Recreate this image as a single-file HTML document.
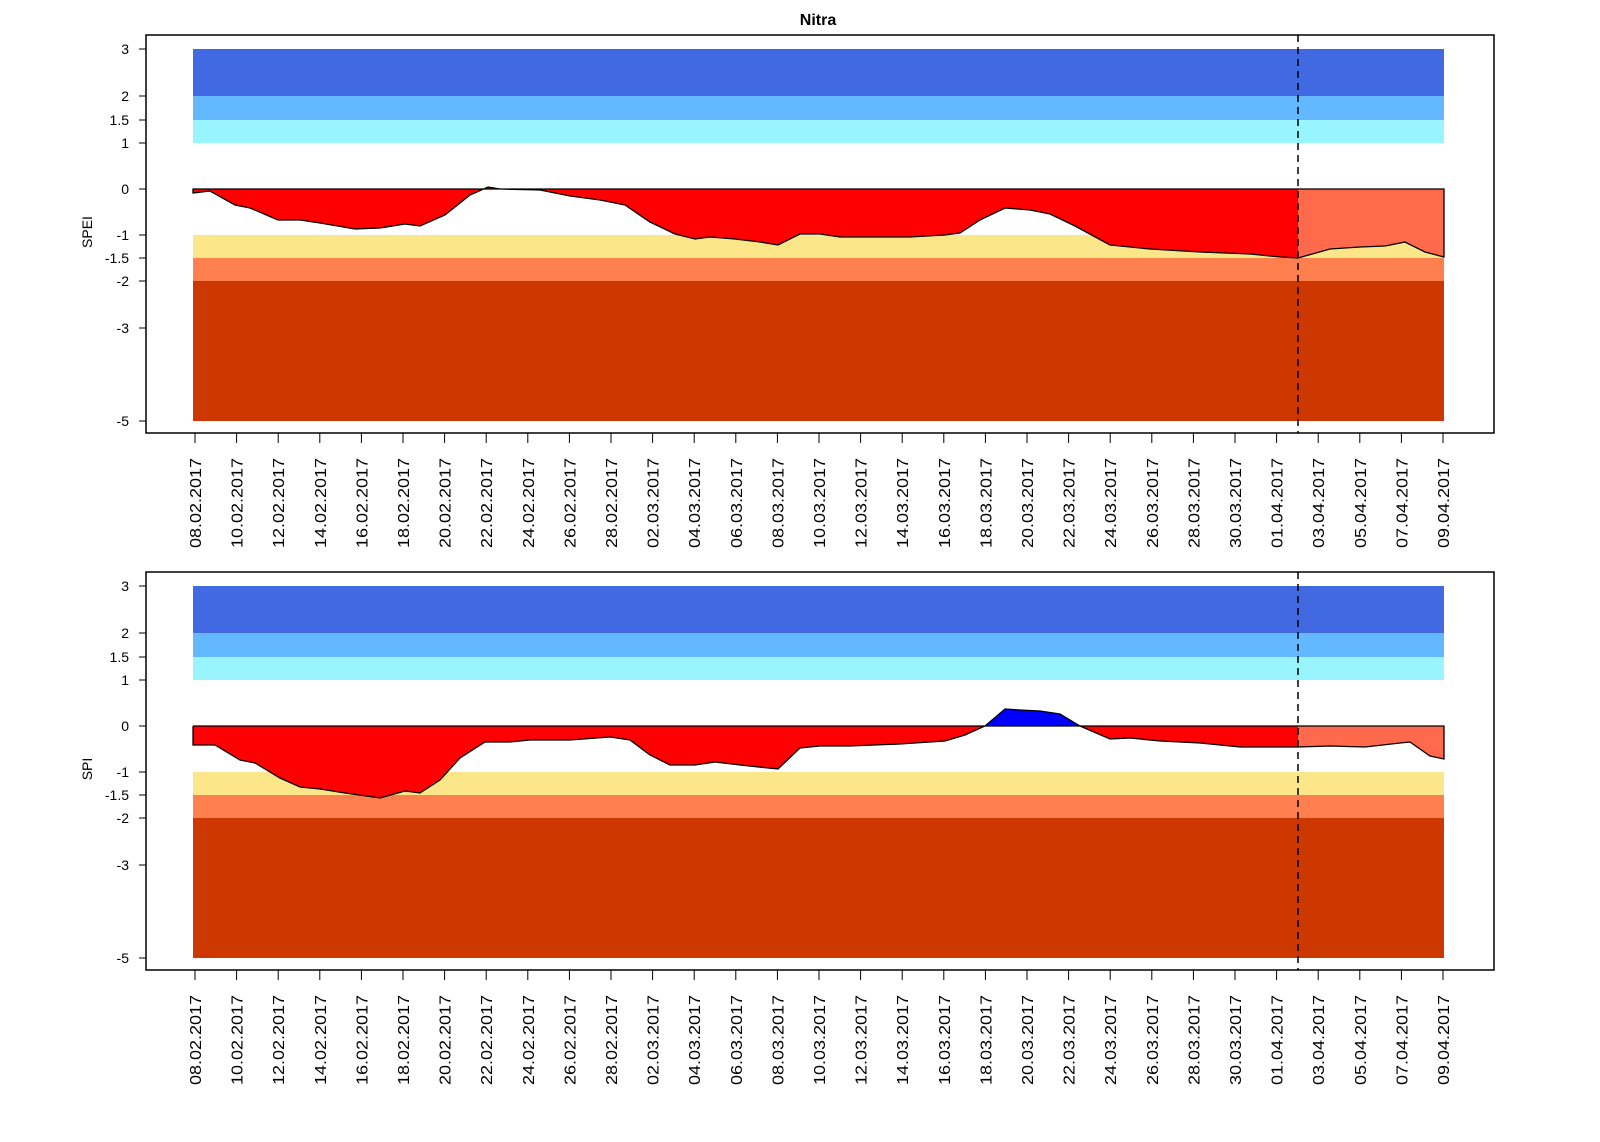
<!DOCTYPE html>
<html><head><meta charset="utf-8"><style>
body{margin:0;background:#fff}
svg{display:block;font-family:"Liberation Sans",Arial,sans-serif}
</style></head><body>
<svg width="1600" height="1142" viewBox="0 0 1600 1142">
<defs>
<clipPath id="cl"><rect x="0" y="0" width="1298" height="1142"/></clipPath>
<clipPath id="cr"><rect x="1298" y="0" width="300" height="1142"/></clipPath>
<path id="s1" d="M193,189 L193,193 L210,191 L235,205 L250,208 L278,220 L300,220 L320,223 L355,229 L380,228 L405,224 L420,226 L445,215 L470,195 L488,187 L500,189 L540,190 L570,196 L600,200 L625,205 L650,222 L675,234 L695,239 L710,237 L735,239 L760,242 L778,245 L800,234 L820,234 L840,237 L880,237 L910,237 L945,235 L960,233 L980,220 L1005,208 L1030,210 L1050,214 L1075,226 L1110,245 L1150,249 L1200,252 L1250,254 L1280,257 L1298,258 L1330,249 L1360,247 L1385,246 L1405,242 L1425,252 L1444,257 L1444,189 Z"/>
<path id="s2" d="M193,189 L193,208 L215,208 L240,223 L255,226 L280,241 L300,250 L320,252 L345,256 L380,261 L405,254 L420,256 L440,243 L460,221 L485,205 L510,205 L530,203 L570,203 L610,200 L630,203 L650,218 L670,228 L695,228 L715,225 L740,228 L778,232 L800,211 L820,209 L850,209 L900,207 L945,204 L965,198 L985,189 L1080,189 L1110,202 L1130,201 L1160,204 L1200,206 L1240,210 L1298,210 L1330,209 L1365,210 L1400,206 L1410,205 L1430,219 L1444,222 L1444,189 Z"/>
<g id="bands">
<rect x="193" y="49" width="1251" height="47" fill="#4169E1"/>
<rect x="193" y="96" width="1251" height="24" fill="#63B8FF"/>
<rect x="193" y="120" width="1251" height="23" fill="#98F5FF"/>
<rect x="193" y="235" width="1251" height="23" fill="#FCE68A"/>
<rect x="193" y="258" width="1251" height="23" fill="#FF7F4F"/>
<rect x="193" y="281" width="1251" height="140" fill="#CD3700"/>
</g>
<g id="axes" font-size="14" fill="#000">
<rect x="146" y="35" width="1348" height="398" fill="none" stroke="#000" stroke-width="1.5"/>
<g stroke="#000" stroke-width="1">
<line x1="146" y1="49" x2="139" y2="49"/><line x1="146" y1="96" x2="139" y2="96"/><line x1="146" y1="120" x2="139" y2="120"/><line x1="146" y1="143" x2="139" y2="143"/><line x1="146" y1="189" x2="139" y2="189"/><line x1="146" y1="235" x2="139" y2="235"/><line x1="146" y1="258" x2="139" y2="258"/><line x1="146" y1="281" x2="139" y2="281"/><line x1="146" y1="328" x2="139" y2="328"/><line x1="146" y1="421" x2="139" y2="421"/>
<line x1="195" y1="433" x2="1443" y2="433"/>
</g>
<g text-anchor="end">
<text x="129" y="54">3</text><text x="129" y="101">2</text><text x="129" y="125">1.5</text><text x="129" y="148">1</text><text x="129" y="194">0</text><text x="129" y="240">-1</text><text x="129" y="263">-1.5</text><text x="129" y="286">-2</text><text x="129" y="333">-3</text><text x="129" y="426">-5</text>
</g>
<g stroke="#000"><line x1="195" y1="433" x2="195" y2="443"/><line x1="236.6" y1="433" x2="236.6" y2="443"/><line x1="278.2" y1="433" x2="278.2" y2="443"/><line x1="319.8" y1="433" x2="319.8" y2="443"/><line x1="361.4" y1="433" x2="361.4" y2="443"/><line x1="403" y1="433" x2="403" y2="443"/><line x1="444.6" y1="433" x2="444.6" y2="443"/><line x1="486.2" y1="433" x2="486.2" y2="443"/><line x1="527.8" y1="433" x2="527.8" y2="443"/><line x1="569.4" y1="433" x2="569.4" y2="443"/><line x1="611" y1="433" x2="611" y2="443"/><line x1="652.6" y1="433" x2="652.6" y2="443"/><line x1="694.2" y1="433" x2="694.2" y2="443"/><line x1="735.8" y1="433" x2="735.8" y2="443"/><line x1="777.4" y1="433" x2="777.4" y2="443"/><line x1="819" y1="433" x2="819" y2="443"/><line x1="860.6" y1="433" x2="860.6" y2="443"/><line x1="902.2" y1="433" x2="902.2" y2="443"/><line x1="943.8" y1="433" x2="943.8" y2="443"/><line x1="985.4" y1="433" x2="985.4" y2="443"/><line x1="1027" y1="433" x2="1027" y2="443"/><line x1="1068.6" y1="433" x2="1068.6" y2="443"/><line x1="1110.2" y1="433" x2="1110.2" y2="443"/><line x1="1151.8" y1="433" x2="1151.8" y2="443"/><line x1="1193.4" y1="433" x2="1193.4" y2="443"/><line x1="1235" y1="433" x2="1235" y2="443"/><line x1="1276.6" y1="433" x2="1276.6" y2="443"/><line x1="1318.2" y1="433" x2="1318.2" y2="443"/><line x1="1359.8" y1="433" x2="1359.8" y2="443"/><line x1="1401.4" y1="433" x2="1401.4" y2="443"/><line x1="1443" y1="433" x2="1443" y2="443"/></g>
<g text-anchor="end" font-size="16">
<text transform="translate(201,458) rotate(-90)" textLength="90" lengthAdjust="spacingAndGlyphs">08.02.2017</text>
<text transform="translate(242.6,458) rotate(-90)" textLength="90" lengthAdjust="spacingAndGlyphs">10.02.2017</text>
<text transform="translate(284.2,458) rotate(-90)" textLength="90" lengthAdjust="spacingAndGlyphs">12.02.2017</text>
<text transform="translate(325.8,458) rotate(-90)" textLength="90" lengthAdjust="spacingAndGlyphs">14.02.2017</text>
<text transform="translate(367.4,458) rotate(-90)" textLength="90" lengthAdjust="spacingAndGlyphs">16.02.2017</text>
<text transform="translate(409,458) rotate(-90)" textLength="90" lengthAdjust="spacingAndGlyphs">18.02.2017</text>
<text transform="translate(450.6,458) rotate(-90)" textLength="90" lengthAdjust="spacingAndGlyphs">20.02.2017</text>
<text transform="translate(492.2,458) rotate(-90)" textLength="90" lengthAdjust="spacingAndGlyphs">22.02.2017</text>
<text transform="translate(533.8,458) rotate(-90)" textLength="90" lengthAdjust="spacingAndGlyphs">24.02.2017</text>
<text transform="translate(575.4,458) rotate(-90)" textLength="90" lengthAdjust="spacingAndGlyphs">26.02.2017</text>
<text transform="translate(617,458) rotate(-90)" textLength="90" lengthAdjust="spacingAndGlyphs">28.02.2017</text>
<text transform="translate(658.6,458) rotate(-90)" textLength="90" lengthAdjust="spacingAndGlyphs">02.03.2017</text>
<text transform="translate(700.2,458) rotate(-90)" textLength="90" lengthAdjust="spacingAndGlyphs">04.03.2017</text>
<text transform="translate(741.8,458) rotate(-90)" textLength="90" lengthAdjust="spacingAndGlyphs">06.03.2017</text>
<text transform="translate(783.4,458) rotate(-90)" textLength="90" lengthAdjust="spacingAndGlyphs">08.03.2017</text>
<text transform="translate(825,458) rotate(-90)" textLength="90" lengthAdjust="spacingAndGlyphs">10.03.2017</text>
<text transform="translate(866.6,458) rotate(-90)" textLength="90" lengthAdjust="spacingAndGlyphs">12.03.2017</text>
<text transform="translate(908.2,458) rotate(-90)" textLength="90" lengthAdjust="spacingAndGlyphs">14.03.2017</text>
<text transform="translate(949.8,458) rotate(-90)" textLength="90" lengthAdjust="spacingAndGlyphs">16.03.2017</text>
<text transform="translate(991.4,458) rotate(-90)" textLength="90" lengthAdjust="spacingAndGlyphs">18.03.2017</text>
<text transform="translate(1033,458) rotate(-90)" textLength="90" lengthAdjust="spacingAndGlyphs">20.03.2017</text>
<text transform="translate(1074.6,458) rotate(-90)" textLength="90" lengthAdjust="spacingAndGlyphs">22.03.2017</text>
<text transform="translate(1116.2,458) rotate(-90)" textLength="90" lengthAdjust="spacingAndGlyphs">24.03.2017</text>
<text transform="translate(1157.8,458) rotate(-90)" textLength="90" lengthAdjust="spacingAndGlyphs">26.03.2017</text>
<text transform="translate(1199.4,458) rotate(-90)" textLength="90" lengthAdjust="spacingAndGlyphs">28.03.2017</text>
<text transform="translate(1241,458) rotate(-90)" textLength="90" lengthAdjust="spacingAndGlyphs">30.03.2017</text>
<text transform="translate(1282.6,458) rotate(-90)" textLength="90" lengthAdjust="spacingAndGlyphs">01.04.2017</text>
<text transform="translate(1324.2,458) rotate(-90)" textLength="90" lengthAdjust="spacingAndGlyphs">03.04.2017</text>
<text transform="translate(1365.8,458) rotate(-90)" textLength="90" lengthAdjust="spacingAndGlyphs">05.04.2017</text>
<text transform="translate(1407.4,458) rotate(-90)" textLength="90" lengthAdjust="spacingAndGlyphs">07.04.2017</text>
<text transform="translate(1449,458) rotate(-90)" textLength="90" lengthAdjust="spacingAndGlyphs">09.04.2017</text>
</g>
</g>
</defs>

<text x="818" y="25" text-anchor="middle" font-size="16" font-weight="bold">Nitra</text>

<!-- Panel 1 SPEI -->
<use href="#bands"/>
<g clip-path="url(#cl)"><use href="#s1" fill="#FF0000"/></g>
<g clip-path="url(#cr)"><use href="#s1" fill="#FF6A4D"/></g>
<use href="#s1" fill="none" stroke="#000" stroke-width="1.3"/>
<line x1="1298" y1="35" x2="1298" y2="433" stroke="#000" stroke-width="1.5" stroke-dasharray="7,5"/>
<use href="#axes"/>
<text transform="translate(92,232) rotate(-90)" text-anchor="middle" font-size="14">SPEI</text>

<!-- Panel 2 SPI -->
<g transform="translate(0,537)">
<use href="#bands"/>
<g clip-path="url(#cl)"><use href="#s2" fill="#FF0000"/></g>
<g clip-path="url(#cr)"><use href="#s2" fill="#FF6A4D"/></g>
<path d="M985,189 L1005,172 L1020,173 L1040,174 L1060,177 L1080,189 Z" fill="#0000FF"/>
<path d="M193,189 L193,208 L215,208 L240,223 L255,226 L280,241 L300,250 L320,252 L345,256 L380,261 L405,254 L420,256 L440,243 L460,221 L485,205 L510,205 L530,203 L570,203 L610,200 L630,203 L650,218 L670,228 L695,228 L715,225 L740,228 L778,232 L800,211 L820,209 L850,209 L900,207 L945,204 L965,198 L985,189 L1005,172 L1020,173 L1040,174 L1060,177 L1080,189 L1110,202 L1130,201 L1160,204 L1200,206 L1240,210 L1298,210 L1330,209 L1365,210 L1400,206 L1410,205 L1430,219 L1444,222 L1444,189 L193,189" fill="none" stroke="#000" stroke-width="1.3"/>
<line x1="1298" y1="35" x2="1298" y2="433" stroke="#000" stroke-width="1.5" stroke-dasharray="7,5"/>
<use href="#axes"/>
<text transform="translate(92,232) rotate(-90)" text-anchor="middle" font-size="14">SPI</text>
</g>
</svg>
</body></html>
